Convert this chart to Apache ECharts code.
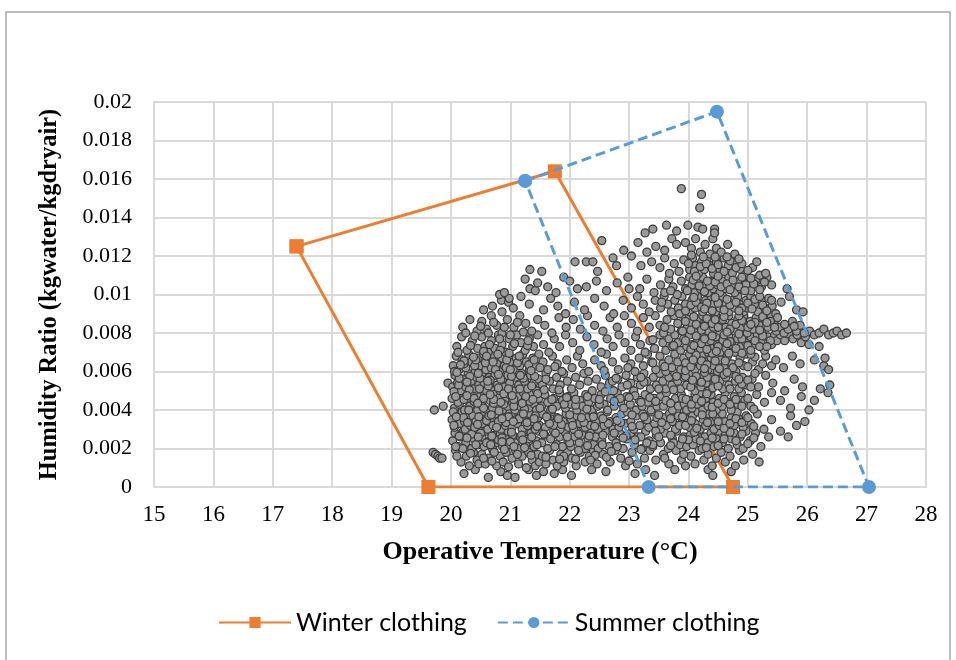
<!DOCTYPE html>
<html>
<head>
<meta charset="utf-8">
<script src="https://cdn.jsdelivr.net/npm/echarts@6/dist/echarts.min.js"></script>
<style>
html, body { margin: 0; padding: 0; background: #fff; }
#chart { width: 956px; height: 660px; }
</style>
</head>
<body>
<div id="chart"></div>
<script>
// comfort zone corners: operative temperature (°C) and humidity ratio (kg/kg)
const winterTemp = [17.4, 21.75, 24.75, 19.62, 17.4]
const winterHum = [0.0125, 0.0164, 0, 0, 0.0125]
const summerTemp = [21.25, 24.48, 27.04, 23.33, 21.25]
const summerHum = [0.0159, 0.0195, 0, 0, 0.0159]

const tempRange = [15, 28, 1]
const humRange = [0, 0.02, 0.002]

// measured points: [operative temperature °C, humidity ratio g/kg]
const samples = [
  // 0 - 1 g/kg
  [20.22,0.7],[20.41,0.9],[20.63,0.5],[20.84,0.8],[20.95,0.6],[21.08,0.5],[21.31,0.9],[21.44,0.6],[21.56,0.8],[21.74,0.7],[21.88,0.9],[22.03,0.6],[22.37,0.9],[22.61,0.8],[23.10,0.7],[23.28,0.9],[23.43,0.6],[23.77,0.9],[24.33,0.9],[24.41,0.6],[24.72,0.8],
  // 1 - 2
  [19.70,1.8],[19.74,1.7],[19.78,1.6],[19.81,1.5],[19.85,1.5],
  [20.08,1.9],[20.17,1.3],[20.26,1.6],[20.31,1.1],[20.38,1.8],[20.44,1.4],[20.29,1.95],[20.47,1.2],
  [20.52,1.7],[20.58,1.2],[20.64,1.5],[20.71,1.9],[20.77,1.1],[20.83,1.6],[20.88,1.3],[20.93,1.8],[20.97,1.05],[20.69,1.35],
  [21.03,1.5],[21.09,1.9],[21.14,1.2],[21.2,1.6],[21.27,1.0],[21.31,1.8],[21.37,1.4],[21.42,1.1],[21.46,1.7],[21.49,1.3],
  [21.54,1.6],[21.6,1.2],[21.66,1.9],[21.72,1.4],[21.79,1.1],[21.85,1.7],[21.9,1.3],[21.96,1.8],
  [22.04,1.5],[22.11,1.1],[22.18,1.8],[22.26,1.3],[22.33,1.6],[22.4,1.9],[22.46,1.2],
  [22.56,1.7],[22.68,1.3],[22.77,1.9],[22.86,1.5],[22.94,1.1],
  [23.05,1.8],[23.14,1.2],[23.26,1.5],[23.35,1.9],[23.45,1.4],
  [23.58,1.7],[23.67,1.2],[23.79,1.9],[23.88,1.4],[23.95,1.1],
  [24.04,1.6],[24.11,1.2],[24.18,1.9],[24.26,1.4],[24.33,1.7],[24.4,1.1],[24.47,1.5],
  [24.55,1.8],[24.62,1.3],[24.7,1.6],[24.79,1.1],[24.86,1.9],[24.93,1.4],
  [25.08,1.7],[25.19,1.3],
  // 2 - 3
  [20.03,2.4],[20.07,2.8],[20.12,2.1],[20.16,2.6],[20.21,2.9],[20.25,2.3],[20.3,2.7],[20.35,2.0],[20.39,2.5],[20.44,2.9],[20.48,2.2],
  [20.52,2.6],[20.56,2.1],[20.61,2.9],[20.65,2.4],[20.7,2.0],[20.74,2.7],[20.79,2.3],[20.83,2.8],[20.87,2.1],[20.92,2.5],[20.96,2.9],[20.99,2.2],
  [21.04,2.7],[21.08,2.3],[21.13,2.0],[21.17,2.6],[21.22,2.9],[21.26,2.2],[21.31,2.5],[21.35,2.8],[21.4,2.1],[21.44,2.4],[21.48,2.9],
  [21.53,2.3],[21.58,2.7],[21.63,2.0],[21.68,2.5],[21.73,2.9],[21.78,2.2],[21.83,2.6],[21.88,2.1],[21.93,2.8],[21.97,2.4],
  [22.02,2.1],[22.07,2.6],[22.12,2.9],[22.16,2.3],[22.21,2.7],[22.26,2.0],[22.31,2.5],[22.35,2.8],[22.4,2.2],[22.44,2.6],[22.48,2.0],
  [22.54,2.4],[22.6,2.9],[22.66,2.1],[22.72,2.6],[22.78,2.3],[22.84,2.8],[22.9,2.0],[22.96,2.5],
  [23.03,2.8],[23.09,2.2],[23.15,2.6],[23.22,2.0],[23.28,2.9],[23.34,2.4],[23.4,2.1],[23.46,2.7],
  [23.53,2.3],[23.6,2.8],[23.66,2.0],[23.73,2.5],[23.8,2.9],[23.86,2.2],[23.92,2.6],[23.97,2.1],
  [24.03,2.7],[24.08,2.2],[24.13,2.5],[24.18,2.9],[24.23,2.0],[24.28,2.6],[24.33,2.3],[24.38,2.8],[24.43,2.1],[24.47,2.5],
  [24.52,2.9],[24.57,2.3],[24.62,2.7],[24.67,2.0],[24.72,2.5],[24.77,2.8],[24.82,2.2],[24.87,2.6],[24.92,2.0],[24.97,2.9],
  [25.04,2.4],[25.13,2.8],[25.22,2.1],[25.35,2.6],[25.55,2.9],[25.68,2.6],
  // 3 - 4
  [20.02,3.5],[20.06,3.1],[20.1,3.8],[20.15,3.3],[20.19,3.9],[20.24,3.0],[20.28,3.6],[20.33,3.2],[20.37,3.7],[20.42,3.4],[20.46,3.0],[20.49,3.8],
  [20.53,3.3],[20.57,3.9],[20.62,3.0],[20.66,3.5],[20.71,3.2],[20.75,3.8],[20.8,3.4],[20.84,3.0],[20.88,3.6],[20.92,3.2],[20.95,3.9],[20.99,3.5],
  [21.03,3.1],[21.07,3.7],[21.12,3.3],[21.16,3.9],[21.2,3.0],[21.25,3.5],[21.29,3.2],[21.33,3.8],[21.38,3.4],[21.42,3.0],[21.46,3.6],[21.49,3.2],
  [21.54,3.8],[21.59,3.1],[21.64,3.5],[21.69,3.9],[21.74,3.2],[21.79,3.6],[21.84,3.0],[21.89,3.4],[21.94,3.8],[21.98,3.1],
  [22.03,3.5],[22.07,3.0],[22.12,3.7],[22.17,3.3],[22.21,3.9],[22.26,3.1],[22.3,3.6],[22.35,3.2],[22.39,3.8],[22.44,3.4],[22.48,3.0],
  [22.53,3.7],[22.58,3.2],[22.63,3.9],[22.68,3.4],[22.73,3.0],[22.78,3.6],[22.83,3.1],[22.88,3.8],[22.93,3.3],[22.97,3.9],
  [23.03,3.4],[23.08,3.0],[23.13,3.7],[23.18,3.2],[23.23,3.8],[23.28,3.5],[23.33,3.1],[23.38,3.9],[23.43,3.3],[23.47,3.6],
  [23.53,3.0],[23.58,3.6],[23.63,3.2],[23.68,3.8],[23.73,3.4],[23.78,3.0],[23.83,3.7],[23.88,3.3],[23.93,3.9],[23.97,3.5],
  [24.02,3.1],[24.07,3.7],[24.11,3.3],[24.16,3.9],[24.2,3.0],[24.25,3.5],[24.29,3.2],[24.34,3.8],[24.38,3.4],[24.43,3.0],[24.47,3.6],
  [24.52,3.2],[24.57,3.8],[24.62,3.4],[24.67,3.0],[24.72,3.6],[24.77,3.2],[24.82,3.9],[24.87,3.5],[24.92,3.1],[24.97,3.7],
  [25.06,3.3],[25.16,3.8],[25.27,3.0],[25.4,3.5],[25.72,3.7],[25.82,3.2],[25.96,3.4],
  // 4 - 5
  [19.72,4.0],[19.87,4.2],
  [20.02,4.6],[20.06,4.1],[20.1,4.8],[20.14,4.3],[20.19,4.9],[20.23,4.0],[20.28,4.5],[20.32,4.2],[20.36,4.8],[20.41,4.4],[20.45,4.0],[20.49,4.7],
  [20.53,4.2],[20.57,4.8],[20.61,4.0],[20.66,4.5],[20.7,4.1],[20.74,4.9],[20.79,4.3],[20.83,4.7],[20.87,4.0],[20.91,4.5],[20.95,4.2],[20.99,4.8],
  [21.04,4.4],[21.08,4.0],[21.13,4.7],[21.17,4.2],[21.22,4.9],[21.26,4.5],[21.31,4.1],[21.35,4.8],[21.4,4.3],[21.44,4.0],[21.48,4.6],
  [21.53,4.2],[21.58,4.8],[21.63,4.4],[21.68,4.0],[21.73,4.6],[21.78,4.2],[21.83,4.9],[21.88,4.5],[21.93,4.1],[21.97,4.7],
  [22.02,4.3],[22.07,4.9],[22.12,4.0],[22.17,4.5],[22.22,4.2],[22.27,4.8],[22.32,4.4],[22.37,4.0],[22.42,4.6],[22.47,4.2],
  [22.53,4.8],[22.58,4.3],[22.64,4.0],[22.69,4.6],[22.75,4.2],[22.8,4.9],[22.86,4.4],[22.91,4.1],[22.96,4.7],
  [23.02,4.3],[23.07,4.9],[23.12,4.0],[23.17,4.5],[23.22,4.2],[23.27,4.8],[23.32,4.4],[23.37,4.0],[23.42,4.6],[23.47,4.2],
  [23.53,4.7],[23.58,4.2],[23.63,4.9],[23.68,4.4],[23.73,4.0],[23.78,4.6],[23.83,4.2],[23.88,4.8],[23.93,4.3],[23.97,4.0],
  [24.02,4.5],[24.06,4.1],[24.11,4.8],[24.15,4.3],[24.2,4.9],[24.24,4.0],[24.29,4.6],[24.33,4.2],[24.38,4.8],[24.42,4.4],[24.47,4.0],
  [24.52,4.6],[24.57,4.2],[24.62,4.9],[24.67,4.4],[24.72,4.0],[24.77,4.7],[24.83,4.3],[24.89,4.9],[24.95,4.5],
  [25.05,4.2],[25.15,4.8],[25.28,4.4],[25.4,4.9],[25.55,4.5],[25.72,4.1],[25.9,4.7],[26.03,4.0],[26.12,4.5],[26.35,4.9],
  // 5 - 6
  [19.95,5.4],
  [20.03,5.2],[20.07,5.8],[20.11,5.4],[20.16,5.0],[20.2,5.6],[20.25,5.2],[20.29,5.9],[20.34,5.5],[20.38,5.1],[20.43,5.7],[20.47,5.3],
  [20.52,5.9],[20.56,5.4],[20.6,5.0],[20.65,5.7],[20.69,5.2],[20.74,5.8],[20.78,5.3],[20.83,5.0],[20.87,5.6],[20.91,5.2],[20.96,5.8],[20.99,5.4],
  [21.04,5.0],[21.09,5.7],[21.14,5.3],[21.19,5.9],[21.24,5.5],[21.29,5.1],[21.34,5.8],[21.39,5.4],[21.44,5.0],[21.48,5.6],
  [21.54,5.3],[21.6,5.9],[21.66,5.5],[21.72,5.1],[21.78,5.7],[21.84,5.3],[21.9,5.9],[21.96,5.5],
  [22.03,5.1],[22.1,5.7],[22.17,5.3],[22.24,5.9],[22.31,5.5],[22.38,5.0],[22.45,5.6],
  [22.53,5.2],[22.6,5.8],[22.67,5.4],[22.74,5.0],[22.81,5.6],[22.88,5.2],[22.95,5.8],
  [23.03,5.4],[23.08,5.0],[23.14,5.7],[23.19,5.3],[23.25,5.9],[23.3,5.5],[23.36,5.1],[23.41,5.7],[23.46,5.3],
  [23.52,5.9],[23.57,5.5],[23.62,5.1],[23.67,5.7],[23.72,5.3],[23.77,5.9],[23.82,5.5],[23.87,5.1],[23.92,5.7],[23.97,5.3],
  [24.02,5.9],[24.07,5.4],[24.11,5.0],[24.16,5.6],[24.21,5.2],[24.25,5.8],[24.3,5.4],[24.34,5.0],[24.39,5.7],[24.43,5.3],[24.48,5.9],
  [24.53,5.5],[24.58,5.1],[24.63,5.7],[24.68,5.3],[24.73,5.9],[24.79,5.5],[24.85,5.1],[24.91,5.7],[24.97,5.3],
  [25.07,5.6],[25.18,5.2],[25.3,5.8],[25.42,5.4],[25.62,5.0],[25.78,5.6],[25.92,5.2],[26.22,5.1],[26.38,5.3],
  // 6 - 7
  [20.04,6.3],[20.09,6.8],[20.14,6.1],[20.19,6.6],[20.25,6.2],[20.3,6.9],[20.35,6.5],[20.41,6.0],[20.46,6.7],
  [20.51,6.3],[20.55,6.9],[20.59,6.1],[20.64,6.6],[20.68,6.2],[20.73,6.8],[20.77,6.4],[20.82,6.0],[20.86,6.7],[20.9,6.3],[20.95,6.9],[20.99,6.5],
  [21.05,6.1],[21.1,6.7],[21.16,6.3],[21.21,6.9],[21.27,6.5],[21.32,6.1],[21.38,6.7],[21.43,6.3],[21.48,6.9],
  [21.55,6.5],[21.63,6.1],[21.71,6.8],[21.79,6.4],[21.87,6.0],[21.95,6.6],
  [22.04,6.2],[22.13,6.8],[22.22,6.4],[22.32,6.0],[22.42,6.6],
  [22.53,6.3],[22.62,6.9],[22.72,6.5],[22.82,6.1],[22.93,6.7],
  [23.03,6.4],[23.1,6.0],[23.17,6.7],[23.24,6.3],[23.31,6.9],[23.38,6.5],[23.45,6.1],
  [23.52,6.8],[23.57,6.4],[23.62,6.0],[23.67,6.6],[23.72,6.2],[23.77,6.9],[23.82,6.5],[23.87,6.1],[23.92,6.7],[23.97,6.3],
  [24.02,6.9],[24.06,6.5],[24.11,6.1],[24.15,6.7],[24.2,6.3],[24.24,6.9],[24.29,6.5],[24.33,6.1],[24.38,6.7],[24.42,6.3],[24.46,6.9],[24.49,6.0],
  [24.54,6.6],[24.6,6.2],[24.66,6.8],[24.73,6.4],[24.8,6.0],[24.87,6.7],[24.93,6.3],[24.98,6.9],
  [25.08,6.5],[25.18,6.1],[25.3,6.8],[25.4,6.3],[25.47,6.6],[25.6,6.2],[25.75,6.8],[25.88,6.4],
  [26.12,6.6],[26.28,6.3],[26.3,6.7],[26.36,6.1],
  // 7 - 8
  [20.1,7.3],[20.18,7.8],[20.27,7.1],[20.36,7.6],[20.45,7.2],
  [20.52,7.8],[20.57,7.3],[20.63,7.0],[20.68,7.6],[20.74,7.2],[20.8,7.9],[20.86,7.4],[20.92,7.0],[20.98,7.7],
  [21.04,7.3],[21.11,7.9],[21.18,7.5],[21.25,7.1],[21.32,7.7],[21.39,7.3],[21.46,7.9],
  [21.56,7.4],[21.65,7.0],[21.74,7.7],[21.83,7.3],[21.93,7.9],
  [22.05,7.5],[22.17,7.1],[22.29,7.8],[22.41,7.4],
  [22.53,7.0],[22.63,7.7],[22.73,7.3],[22.83,7.9],[22.93,7.5],
  [23.03,7.1],[23.11,7.8],[23.19,7.4],[23.27,7.0],[23.35,7.6],[23.43,7.2],
  [23.52,7.9],[23.57,7.5],[23.62,7.1],[23.67,7.7],[23.72,7.3],[23.77,7.9],[23.82,7.5],[23.87,7.1],[23.92,7.7],[23.97,7.3],
  [24.02,7.9],[24.06,7.4],[24.11,7.0],[24.15,7.6],[24.2,7.2],[24.24,7.8],[24.29,7.4],[24.33,7.0],[24.38,7.6],[24.42,7.2],[24.46,7.8],[24.49,7.4],
  [24.53,7.0],[24.58,7.6],[24.63,7.2],[24.68,7.8],[24.73,7.4],[24.78,7.0],[24.83,7.7],[24.88,7.3],[24.93,7.9],[24.97,7.5],[24.99,7.1],
  [25.05,7.8],[25.1,7.4],[25.16,7.9],[25.22,7.5],[25.28,7.1],[25.34,7.8],[25.4,7.4],[25.45,7.9],[25.49,7.6],
  [25.55,7.9],[25.62,7.6],[25.69,7.95],[25.76,7.7],[25.83,7.9],[25.9,7.5],[25.97,7.8],
  [26.03,7.4],[26.2,7.3],
  // 8 - 9 (with the narrow arm near 8 g/kg)
  [26.04,8.1],[26.12,7.9],[26.2,8.0],[26.28,8.2],[26.36,7.9],[26.44,8.0],[26.5,8.1],[26.58,7.9],[26.66,8.0],
  [20.2,8.3],[20.32,8.7],[20.44,8.1],
  [20.52,8.6],[20.6,8.2],[20.68,8.9],[20.77,8.4],[20.86,8.0],[20.95,8.7],
  [21.06,8.3],[21.16,8.9],[21.26,8.5],[21.36,8.1],[21.46,8.7],
  [21.58,8.4],[21.7,8.0],[21.82,8.8],[21.94,8.3],
  [22.06,8.7],[22.18,8.2],[22.3,8.9],[22.42,8.4],
  [22.56,8.1],[22.68,8.8],[22.8,8.3],[22.92,8.9],
  [23.04,8.5],[23.14,8.1],[23.24,8.8],[23.34,8.3],[23.44,8.9],
  [23.52,8.4],[23.58,8.0],[23.64,8.7],[23.7,8.2],[23.76,8.9],[23.82,8.5],[23.88,8.1],[23.94,8.8],[23.98,8.3],
  [24.02,8.9],[24.06,8.5],[24.11,8.1],[24.15,8.7],[24.2,8.3],[24.24,8.9],[24.29,8.5],[24.33,8.1],[24.38,8.7],[24.42,8.3],[24.46,8.9],[24.49,8.5],
  [24.53,8.1],[24.58,8.7],[24.63,8.3],[24.68,8.9],[24.73,8.5],[24.78,8.1],[24.83,8.7],[24.88,8.3],[24.93,8.9],[24.97,8.5],[24.99,8.0],
  [25.04,8.6],[25.09,8.2],[25.14,8.8],[25.19,8.4],[25.24,8.0],[25.29,8.7],[25.34,8.3],[25.39,8.9],[25.44,8.5],[25.48,8.1],
  [25.54,8.3],[25.61,8.0],[25.68,8.2],[25.75,8.6],[25.82,8.1],[25.88,8.4],[25.95,8.0],
  // 9 - 10
  [20.55,9.2],[20.7,9.4],[20.85,9.7],[20.86,9.1],[20.97,9.6],[20.98,9.8],
  [21.05,9.3],[21.18,9.9],[21.32,9.5],
  [21.56,9.2],[21.68,9.8],[21.8,9.4],[21.93,9.0],
  [22.08,9.6],[22.25,9.2],[22.42,9.8],
  [22.58,9.4],[22.74,9.0],[22.9,9.7],
  [23.04,9.3],[23.14,9.9],[23.24,9.5],[23.34,9.1],[23.44,9.7],
  [23.53,9.3],[23.59,9.9],[23.65,9.5],[23.71,9.1],[23.77,9.7],[23.83,9.3],[23.89,9.9],[23.95,9.5],
  [24.02,9.1],[24.06,9.7],[24.11,9.3],[24.15,9.9],[24.2,9.5],[24.24,9.1],[24.29,9.7],[24.33,9.3],[24.38,9.9],[24.42,9.5],[24.46,9.1],[24.49,9.7],
  [24.53,9.3],[24.58,9.9],[24.63,9.5],[24.68,9.1],[24.73,9.7],[24.78,9.3],[24.83,9.9],[24.88,9.5],[24.93,9.1],[24.97,9.7],[24.99,9.3],
  [25.05,9.9],[25.11,9.5],[25.17,9.1],[25.23,9.7],[25.29,9.3],[25.35,9.8],[25.41,9.4],[25.47,9.0],
  [25.56,9.6],[25.7,9.9],[25.82,9.2],[25.93,9.1],
  // 10 - 11
  [20.82,10.0],[20.9,10.1],
  [21.25,10.8],[21.33,10.3],[21.42,10.2],[21.46,10.6],
  [21.63,10.4],[21.77,10.1],[21.9,10.9],
  [22.0,10.7],[22.13,10.3],[22.28,10.4],[22.45,10.7],
  [22.62,10.2],[22.8,10.6],[22.98,10.9],
  [23.0,10.3],[23.18,10.3],[23.3,10.8],[23.42,10.1],
  [23.53,10.5],[23.6,10.1],[23.67,10.8],[23.74,10.4],[23.81,10.0],[23.88,10.7],[23.95,10.3],
  [24.02,10.9],[24.06,10.5],[24.11,10.1],[24.15,10.7],[24.2,10.3],[24.24,10.9],[24.29,10.5],[24.33,10.1],[24.38,10.7],[24.42,10.3],[24.46,10.9],[24.49,10.5],
  [24.53,10.1],[24.58,10.7],[24.63,10.3],[24.68,10.9],[24.73,10.5],[24.78,10.1],[24.83,10.7],[24.88,10.3],[24.93,10.9],[24.97,10.5],
  [25.05,10.2],[25.14,10.8],[25.23,10.4],[25.32,10.9],[25.4,10.5],[25.66,10.3],
  // 11 - 12
  [21.33,11.3],[21.53,11.2],
  [22.09,11.7],[22.28,11.7],[22.39,11.7],[22.47,11.2],
  [22.73,11.9],[22.79,11.5],
  [23.2,11.5],[23.38,11.7],[23.04,12.0],
  [23.52,11.4],[23.6,11.9],[23.68,11.1],[23.76,11.6],[23.84,11.2],[23.92,11.8],
  [24.02,11.3],[24.07,11.9],[24.12,11.5],[24.17,11.1],[24.22,11.7],[24.27,11.3],[24.32,11.9],[24.37,11.5],[24.42,11.1],[24.47,11.7],
  [24.53,11.3],[24.6,11.9],[24.67,11.5],[24.74,11.1],[24.81,11.7],[24.88,11.3],[24.95,11.0],
  [25.08,11.4],[25.2,11.0],
  // 12 and above
  [22.54,12.8],[22.91,12.3],
  [23.15,12.7],[23.3,12.2],[23.45,12.5],
  [23.6,12.3],[23.72,12.9],[23.8,12.6],[23.95,12.7],
  [24.05,12.4],[24.12,12.9],[24.2,12.2],[24.28,12.6],[24.36,12.1],[24.41,12.9],[24.47,12.4],
  [24.55,12.2],[24.66,12.6],[24.78,12.1],
  [23.27,13.2],[23.4,13.4],[23.63,13.6],[23.8,13.3],[23.99,13.6],[24.16,13.5],[24.24,13.4],[24.44,13.4],[24.44,13.2],
  [24.19,14.5],[24.22,15.2],[23.88,15.5],
  // second pass over the crowded left and middle areas
  [20.1,1.6],[20.2,2.0],[20.33,1.75],[20.42,2.2],[20.55,1.5],[20.6,2.3],[20.73,1.8],[20.8,2.45],[20.9,1.95],[21.0,2.35],[21.12,1.7],[21.24,2.05],[21.35,1.65],[21.45,2.2],[21.6,1.55],[21.75,2.1],[21.9,1.6],[22.0,2.3],[22.15,1.9],[22.3,2.15],[22.43,1.65],
  [20.05,3.2],[20.14,2.65],[20.23,3.4],[20.35,2.75],[20.4,3.1],[20.5,2.8],[20.6,3.45],[20.69,2.65],[20.77,3.1],[20.86,2.55],[20.93,3.35],[21.02,2.85],[21.1,3.5],[21.19,2.7],[21.28,3.35],[21.36,2.6],[21.45,3.15],[21.56,2.75],[21.66,3.3],[21.76,2.8],[21.86,3.25],[21.96,2.6],[22.05,3.2],[22.15,2.75],[22.24,3.35],[22.33,2.65],[22.42,3.15],[22.56,2.7],[22.65,3.3],[22.75,2.8],[22.86,3.35],[22.95,2.65],
  [20.04,3.9],[20.12,4.4],[20.21,3.6],[20.3,4.0],[20.39,4.45],[20.47,3.65],[20.55,4.1],[20.64,3.7],[20.72,4.35],[20.81,3.95],[20.89,4.3],[20.97,3.65],[21.06,4.2],[21.15,3.55],[21.24,4.05],[21.33,4.45],[21.42,3.7],[21.5,4.1],[21.61,3.65],[21.71,4.05],[21.81,3.55],[21.91,4.3],[22.0,3.75],[22.1,4.25],[22.2,3.6],[22.29,4.05],[22.4,3.65],[22.5,4.3],
  [20.05,4.95],[20.13,5.3],[20.22,4.55],[20.31,5.05],[20.39,4.6],[20.48,5.1],[20.55,4.6],[20.63,5.25],[20.72,4.55],[20.8,5.15],[20.89,4.85],[20.97,5.1],[21.06,4.55],[21.16,5.1],[21.26,4.7],[21.36,5.25],[21.46,4.85],[21.57,5.05],[21.7,4.55],[21.82,5.05],[21.95,4.65],
  [20.06,6.0],[20.14,5.65],[20.22,6.4],[20.32,5.75],[20.4,6.3],[20.49,5.65],[20.58,6.45],[20.66,5.55],[20.75,6.1],[20.84,5.6],[20.93,6.2],[21.02,5.75],[21.12,6.45],[21.22,5.65],[21.31,6.35],[21.41,5.75],[21.5,6.2],[21.6,5.6],[21.75,6.25],
  [20.12,7.0],[20.22,6.55],[20.33,7.35],[20.42,6.6],[20.55,7.05],[20.65,7.4],[20.71,6.5],[20.83,7.1],[20.94,6.6],[21.07,7.45],[21.15,6.8],[21.29,7.35],[21.4,6.6],
  [20.25,8.0],[20.4,7.85],[20.5,8.35],[20.63,8.0],[20.72,8.55],[20.82,7.7],[20.9,8.3],[21.0,7.9],[21.12,8.55],[21.22,8.05],[21.3,7.6],
  [22.62,1.55],[22.8,2.1],[23.0,1.35],[23.2,1.95],[23.4,2.2],[23.6,1.5],[23.75,2.3],[23.92,1.7],
  [23.05,3.15],[23.2,2.6],[23.3,3.5],[23.45,2.9],[23.55,3.35],[23.7,2.7],[23.85,3.2],
  [22.6,4.95],[22.72,5.5],[22.85,4.6],[22.97,5.3],[23.1,4.75],[23.25,5.45],[23.35,4.65],[23.5,5.1],[23.62,4.5],[23.75,5.05],[23.9,4.6],
  [22.58,6.05],[22.78,5.65],[22.98,6.2],[23.2,5.7],[23.4,6.45],[23.6,6.25],[23.8,5.75],[23.95,6.45],
  [23.4,7.65],[23.6,8.3],[23.75,7.35],[23.9,8.1],[23.55,9.6],[23.85,9.0],[23.7,10.2],
  // second pass over the crowded right area
  [24.0,2.45],[24.1,2.85],[24.2,2.4],[24.3,2.05],[24.4,2.55],[24.5,2.15],[24.6,2.5],[24.7,2.85],[24.8,2.4],[24.9,2.75],[25.0,2.25],[25.1,2.55],
  [23.95,3.2],[24.05,3.45],[24.14,3.05],[24.23,3.75],[24.32,3.35],[24.41,3.8],[24.5,3.4],[24.6,3.05],[24.7,3.3],[24.8,3.55],[24.9,3.35],[25.0,3.6],[25.1,3.15],
  [23.96,4.55],[24.05,4.3],[24.13,4.6],[24.22,4.45],[24.31,4.85],[24.4,4.15],[24.5,4.35],[24.6,4.55],[24.7,4.3],[24.8,4.55],[24.9,4.2],[25.0,4.6],[25.1,4.05],
  [23.95,5.75],[24.04,5.2],[24.13,5.75],[24.22,5.45],[24.32,5.7],[24.41,5.15],[24.5,5.25],[24.6,5.85],[24.7,5.1],[24.8,5.75],[24.9,5.35],[25.0,5.55],[25.12,5.9],
  [23.95,6.05],[24.04,6.25],[24.13,6.85],[24.22,6.55],[24.31,6.35],[24.4,6.95],[24.52,6.15],[24.62,6.55],[24.75,6.2],[24.85,6.45],[25.0,6.25],[25.12,6.75],
  [23.95,7.6],[24.04,7.15],[24.13,7.85],[24.22,7.45],[24.31,7.15],[24.4,7.85],[24.5,7.3],[24.6,7.9],[24.7,7.55],[24.8,7.2],[24.9,7.7],[25.0,7.35],[25.12,7.6],[25.25,7.85],[25.38,7.6],
  [23.95,8.6],[24.04,8.15],[24.13,8.45],[24.22,8.15],[24.31,8.75],[24.4,8.5],[24.5,8.3],[24.6,8.85],[24.7,8.2],[24.8,8.45],[24.9,8.65],[25.0,8.3],[25.12,8.55],[25.25,8.85],[25.38,8.6],[25.5,8.8],[25.62,8.45],[25.78,8.35],
  [23.95,9.15],[24.04,9.45],[24.13,9.6],[24.22,9.35],[24.31,9.55],[24.4,9.15],[24.5,9.55],[24.6,9.2],[24.7,9.45],[24.8,9.6],[24.9,9.3],[25.0,9.55],[25.12,9.75],[25.25,9.45],[25.4,9.7],
  [23.98,10.2],[24.08,10.75],[24.18,10.45],[24.27,10.15],[24.36,10.45],[24.45,10.65],[24.55,10.4],[24.65,10.55],[24.75,10.75],[24.85,10.4],[24.95,10.2],[25.1,10.55],[25.28,10.65],
  [24.0,11.6],[24.1,11.2],[24.2,11.45],[24.3,11.6],[24.4,11.35],[24.5,11.55],[24.6,11.2],[24.7,11.75],[24.8,11.4],[24.9,11.6],[25.0,11.25],[25.15,11.7],[25.3,11.1],
  // third pass, densest cores
  [24.07,5.55],[24.27,5.95],[24.45,5.6],[24.65,5.95],[24.85,5.6],[25.05,5.2],
  [24.08,6.6],[24.27,6.15],[24.45,6.55],[24.68,6.95],[24.9,6.95],[25.05,6.9],[25.25,6.4],
  [24.09,7.35],[24.27,7.7],[24.47,7.05],[24.65,7.45],[24.85,7.95],[25.05,7.1],[25.2,7.3],[25.32,7.3],
  [24.09,8.85],[24.27,8.35],[24.45,8.7],[24.65,8.05],[24.85,8.9],[25.05,8.45],[25.2,8.15],[25.32,8.55],[25.45,8.3],
  [24.09,9.85],[24.27,9.25],[24.45,9.85],[24.65,9.75],[24.85,9.15],[25.07,9.25],[25.2,9.9],[25.32,9.15],
  [24.13,10.95],[24.32,10.7],[24.5,10.95],[24.7,10.25],[24.9,10.9],[25.05,10.85],[25.2,10.25],
  [24.05,12.05],[24.25,11.95],[24.45,11.95],[24.65,11.95],[24.85,11.85],
  [20.08,2.1],[20.27,2.55],[20.46,2.6],[20.67,2.2],[20.86,2.35],[21.06,2.1],[21.21,2.45],
  [20.09,3.65],[20.28,3.35],[20.45,3.25],[20.68,3.75],[20.86,3.55],[21.05,3.4],[21.22,3.8],[21.4,3.55],
  [20.08,4.7],[20.27,4.75],[20.45,4.35],[20.66,4.8],[20.84,4.4],[21.03,4.75],[21.2,4.35],[21.38,4.55],
  [20.1,5.95],[20.27,5.45],[20.46,5.9],[20.62,5.5],[20.8,5.85],[21.0,6.1],[21.17,5.8],[21.35,6.05],
  [20.16,6.35],[20.38,6.75],[20.6,6.8],[20.79,6.9],[20.98,6.95],
  [22.1,1.45],[22.35,1.4],[21.83,1.45],[22.55,2.2],[22.7,1.85],[22.9,2.55],[23.1,2.45],[23.3,2.3],[23.5,2.6],[23.7,2.15],[23.9,2.5],
  [22.56,3.55],[22.8,3.45],[23.05,3.75],[23.25,3.65],[23.5,3.75],[23.7,3.55],[23.9,3.65],
  [22.1,4.55],[22.3,4.7],[22.5,4.55],[22.75,4.45],[23.0,4.65],[23.2,4.4],[23.45,4.45],[23.7,4.35]
]

const serif = '"Liberation Serif", "Times New Roman", serif'

const chart = echarts.init(document.getElementById('chart'))
chart.setOption({
  animation: false,
  backgroundColor: '#fff',
  graphic: [{
    type: 'rect',
    shape: { x: 6, y: 12, width: 944, height: 700 },
    style: { fill: 'none', stroke: '#a6a6a6', lineWidth: 1.5 },
    z: -1
  }],
  grid: { left: 154, right: 30, top: 102, bottom: 173, containLabel: false },
  legend: {
    left: 213,
    top: 605,
    itemWidth: 72,
    itemHeight: 14,
    itemGap: 30,
    textStyle: { fontFamily: 'Lato, "Open Sans", sans-serif', fontSize: 25, color: '#000' },
    data: ['Winter clothing', 'Summer clothing']
  },
  xAxis: {
    type: 'value',
    min: tempRange[0],
    max: tempRange[1],
    interval: tempRange[2],
    name: 'Operative Temperature (°C)',
    nameLocation: 'middle',
    nameGap: 52,
    nameTextStyle: { fontFamily: serif, fontWeight: 'bold', fontSize: 26, color: '#000' },
    axisLine: { lineStyle: { color: '#d9d9d9', width: 2 } },
    axisTick: { show: false },
    axisLabel: { fontFamily: serif, fontSize: 23, color: '#000', margin: 16 },
    splitLine: { show: true, lineStyle: { color: '#d9d9d9', width: 2 } }
  },
  yAxis: {
    type: 'value',
    min: humRange[0],
    max: humRange[1],
    interval: humRange[2],
    name: 'Humidity Ratio (kgwater/kgdryair)',
    nameLocation: 'middle',
    nameGap: 92,
    nameTextStyle: { fontFamily: serif, fontWeight: 'bold', fontSize: 24.5, color: '#000' },
    axisLine: { show: true, lineStyle: { color: '#d9d9d9', width: 2 } },
    axisTick: { show: false },
    axisLabel: { fontFamily: serif, fontSize: 22, color: '#000', margin: 22 },
    splitLine: { show: true, lineStyle: { color: '#d9d9d9', width: 2 } }
  },
  series: [
    {
      name: 'Winter clothing',
      type: 'line',
      data: winterTemp.map((t, i) => [t, winterHum[i]]),
      symbol: 'rect',
      symbolSize: 14,
      itemStyle: { color: '#ED7D31' },
      lineStyle: { color: '#ED7D31', width: 3 },
      z: 2
    },
    {
      name: 'Measured',
      type: 'scatter',
      data: samples.map(p => [p[0], p[1] / 1000]),
      symbol: 'circle',
      symbolSize: 8,
      itemStyle: { color: '#9a9a9a', borderColor: '#3c3c3c', borderWidth: 1.3, opacity: 1 },
      z: 3
    },
    {
      name: 'Summer clothing',
      type: 'line',
      data: summerTemp.map((t, i) => [t, summerHum[i]]),
      symbol: 'circle',
      symbolSize: 14,
      itemStyle: { color: '#5B9BD5' },
      lineStyle: { color: '#5B9BD5', width: 3, type: [10, 5] },
      z: 4
    }
  ]
})
</script>
</body>
</html>
